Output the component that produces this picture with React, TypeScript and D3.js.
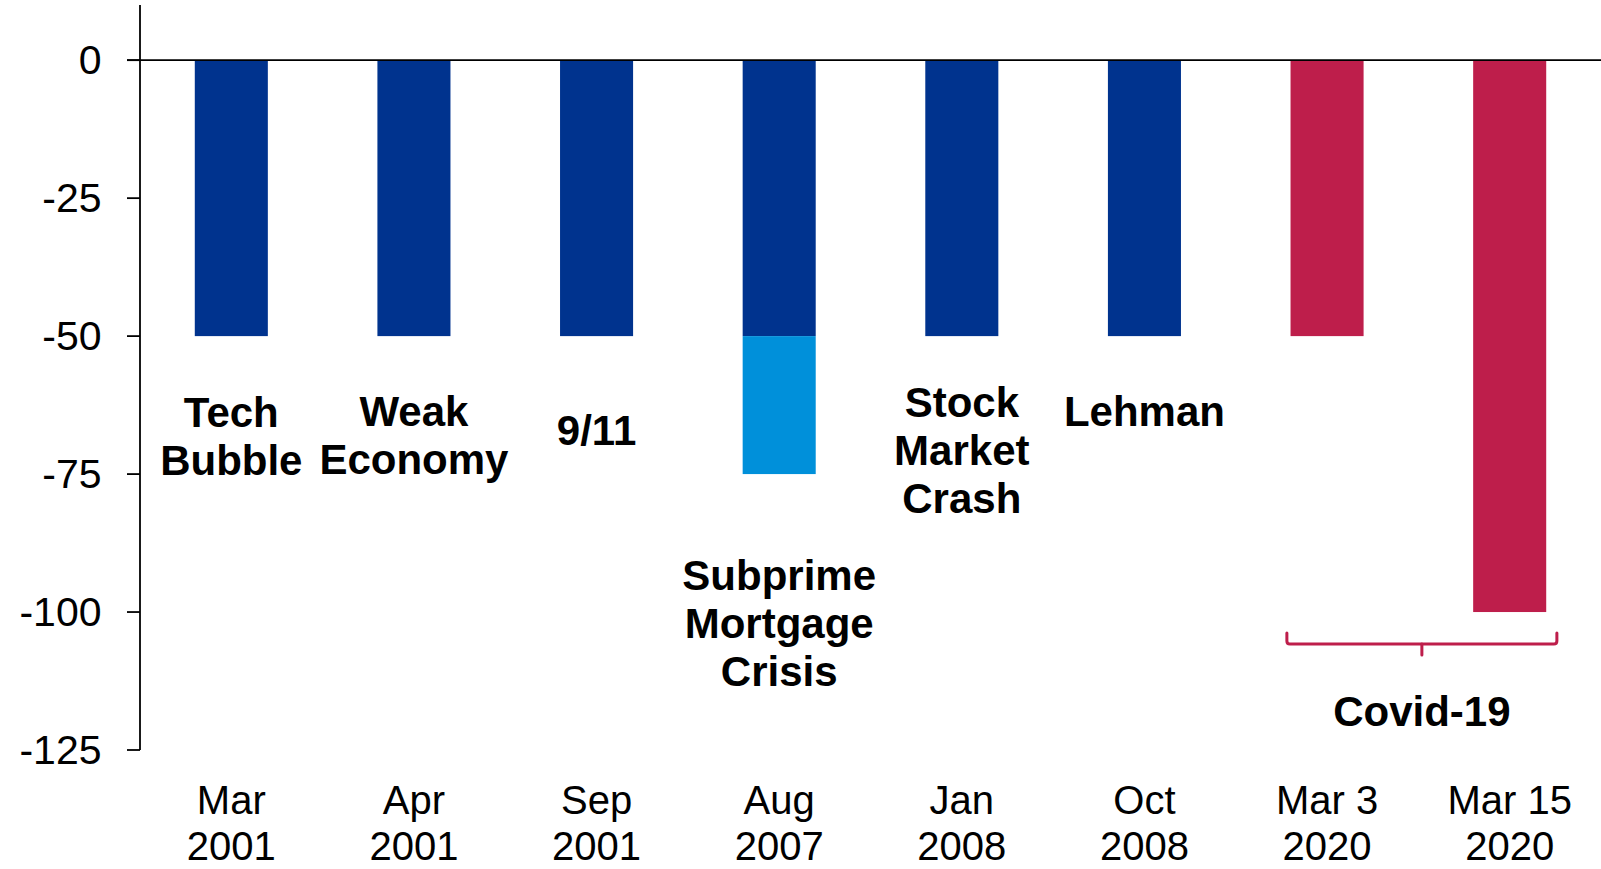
import React, { useEffect, useRef } from 'react'
import * as d3 from 'd3'

// Fed emergency rate cuts (bps)
const categories = ['Mar 2001', 'Apr 2001', 'Sep 2001', 'Aug 2007', 'Jan 2008', 'Oct 2008', 'Mar 3 2020', 'Mar 15 2020']
const tickLines = [['Mar', '2001'], ['Apr', '2001'], ['Sep', '2001'], ['Aug', '2007'], ['Jan', '2008'], ['Oct', '2008'], ['Mar 3', '2020'], ['Mar 15', '2020']]
const cuts = [-50, -50, -50, -50, -50, -50, -50, -100]
const extraCuts = [0, 0, 0, -25, 0, 0, 0, 0]
const isCovid = [false, false, false, false, false, false, true, true]
const events = [['Tech', 'Bubble'], ['Weak', 'Economy'], ['9/11'], ['Subprime', 'Mortgage', 'Crisis'], ['Stock', 'Market', 'Crash'], ['Lehman'], [], []]
const yTicks = [0, -25, -50, -75, -100, -125]

// where each event label's first baseline sits (in axis units)
const eventLabelAt = [-66.5, -66.2, -69.8, -96, -64.7, -66.2]

const App = () => {
  const chartRef = useRef(null)

  useEffect(() => {
    if (!chartRef.current) return
    d3.select(chartRef.current).selectAll('*').remove()

    const width = 1601
    const height = 869
    const font = '"Liberation Sans", Arial, sans-serif'
    const navy = '#00338e'
    const light = '#0090da'
    const crimson = '#be1e4b'

    const svg = d3.select(chartRef.current)
      .append('svg')
      .attr('width', width)
      .attr('height', height)
      .style('display', 'block')
      .style('font-family', font)

    const x = d3.scaleBand()
      .domain(categories)
      .range([140, width])
      .paddingInner(0.6)
      .paddingOuter(0.3)

    const y = d3.scaleLinear()
      .domain([-125, 10])
      .range([750, 5])

    // bars
    svg.selectAll('.bar')
      .data(categories)
      .enter()
      .append('rect')
      .attr('x', d => x(d))
      .attr('y', y(0))
      .attr('width', x.bandwidth())
      .attr('height', (d, i) => y(cuts[i]) - y(0))
      .attr('fill', (d, i) => isCovid[i] ? crimson : navy)

    svg.selectAll('.extra')
      .data(categories.filter((d, i) => extraCuts[i] !== 0))
      .enter()
      .append('rect')
      .attr('x', d => x(d))
      .attr('y', d => y(cuts[categories.indexOf(d)]))
      .attr('width', x.bandwidth())
      .attr('height', d => {
        const i = categories.indexOf(d)
        return y(cuts[i] + extraCuts[i]) - y(cuts[i])
      })
      .attr('fill', light)

    // y axis
    svg.append('line')
      .attr('x1', 140).attr('x2', 140)
      .attr('y1', y(10)).attr('y2', y(-125))
      .attr('stroke', '#000').attr('stroke-width', 1.8)

    svg.append('line')
      .attr('x1', 127).attr('x2', width)
      .attr('y1', y(0)).attr('y2', y(0))
      .attr('stroke', '#000').attr('stroke-width', 1.8)

    yTicks.forEach(t => {
      svg.append('line')
        .attr('x1', 127).attr('x2', 140)
        .attr('y1', y(t)).attr('y2', y(t))
        .attr('stroke', '#000').attr('stroke-width', 1.8)
      svg.append('text')
        .attr('x', 101.5)
        .attr('y', y(t) + 13.5)
        .attr('text-anchor', 'end')
        .style('font-size', '41px')
        .attr('fill', '#000')
        .text(t)
    })

    // x labels
    categories.forEach((c, i) => {
      const cx = x(c) + x.bandwidth() / 2
      tickLines[i].forEach((line, j) => {
        svg.append('text')
          .attr('x', cx)
          .attr('y', 814 + j * 46)
          .attr('text-anchor', 'middle')
          .style('font-size', '40px')
          .attr('fill', '#000')
          .text(line)
      })
    })

    // event labels
    events.forEach((lines, i) => {
      const cx = x(categories[i]) + x.bandwidth() / 2
      lines.forEach((line, j) => {
        svg.append('text')
          .attr('x', cx)
          .attr('y', y(eventLabelAt[i]) + j * 48)
          .attr('text-anchor', 'middle')
          .style('font-size', '42px')
          .style('font-weight', 'bold')
          .attr('fill', '#000')
          .text(line)
      })
    })

    // covid bracket
    const mid = (x(categories[6]) + x(categories[7]) + x.bandwidth()) / 2 + 3.5
    const bx0 = mid - 135
    const bx1 = mid + 135
    const by = y(-105.8)
    const r = 3
    svg.append('path')
      .attr('d', `M${bx0},${by - 11} L${bx0},${by - r} Q${bx0},${by} ${bx0 + r},${by} L${bx1 - r},${by} Q${bx1},${by} ${bx1},${by - r} L${bx1},${by - 11}`)
      .attr('fill', 'none')
      .attr('stroke', crimson)
      .attr('stroke-width', 3)
      .attr('stroke-linecap', 'round')
    svg.append('line')
      .attr('x1', mid).attr('x2', mid)
      .attr('y1', by).attr('y2', by + 11)
      .attr('stroke', crimson)
      .attr('stroke-width', 3)
      .attr('stroke-linecap', 'round')

    svg.append('text')
      .attr('x', mid)
      .attr('y', 726)
      .attr('text-anchor', 'middle')
      .style('font-size', '42px')
      .style('font-weight', 'bold')
      .attr('fill', '#000')
      .text('Covid-19')
  }, [])

  return <div ref={chartRef} style={{ position: 'absolute', left: 0, top: 0 }}></div>
}

export default App
